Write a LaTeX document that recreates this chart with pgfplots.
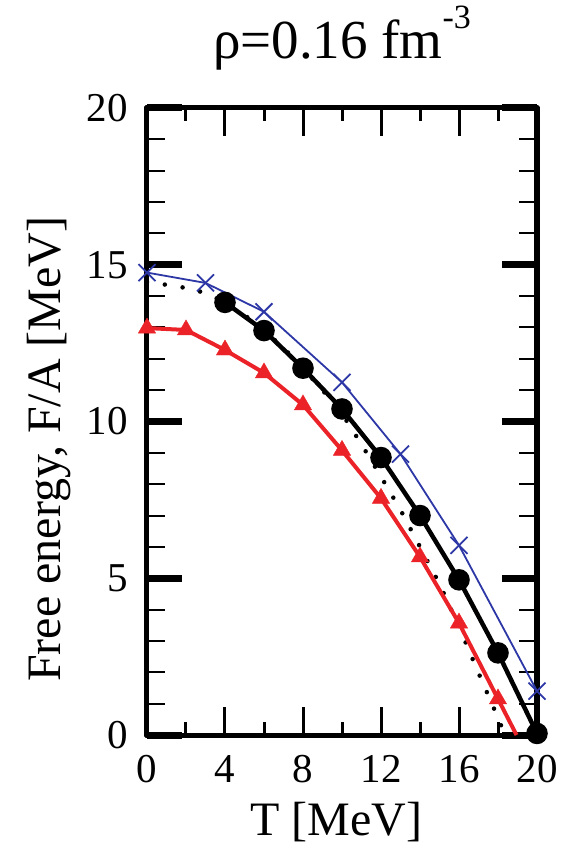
\documentclass[border=0pt]{standalone}
\usepackage{pgfplots}
\pgfplotsset{compat=1.18}
\usepackage{fontspec}
\setmainfont{Liberation Serif}
\newfontfamily\tnr{Liberation Serif}
\definecolor{cblue}{RGB}{45,55,165}
\definecolor{cred}{RGB}{235,35,40}
\begin{document}
\begin{tikzpicture}
\path[use as bounding box] (-147pt,-112pt) rectangle (427pt,735pt);
\pgfplotsset{common/.style={
  width=390pt,height=627pt,scale only axis,
  xmin=0,xmax=20,ymin=0,ymax=20,
  axis line style={line width=5pt, line join=round},
  tick align=inside,
  /pgf/number format/assume math mode=true,
  ticklabel style={font=\tnr\fontsize{41}{41}\selectfont, inner sep=0pt},
  at={(0,0)}, anchor=south west}}
% axis for x ticks
\begin{axis}[common,
  ytick=\empty,
  xtick={0,4,8,12,16,20},
  minor x tick num=1,
  major tick length=28pt, minor tick length=13pt,
  every tick/.style={line width=3pt, black},
  xticklabel shift=20pt,
  xlabel={T [MeV]},
  xlabel style={at={(axis description cs:0.485,-0.1595)}, anchor=base,
    font=\tnr\fontsize{48}{48}\selectfont, inner sep=0pt},
]
\end{axis}
% axis for y ticks and data
\begin{axis}[common,
  clip=false,
  xtick=\empty,
  ytick={0,5,10,15,20},
  minor y tick num=4,
  major tick length=35pt, minor tick length=18pt,
  major tick style={line width=7pt, black},
  minor tick style={line width=2pt, black},
  yticklabel shift=19pt,
  ylabel={Free energy, F/A [MeV]},
  ylabel style={at={(axis description cs:-0.223,0.456)}, anchor=base,
    font=\tnr\fontsize{48}{48}\selectfont, inner sep=0pt},
  title={{\tnr ρ=0.16 fm}\raisebox{30pt}{\tnr\fontsize{34}{34}\selectfont -3}},
  title style={at={(axis description cs:0.5,1.0686)}, anchor=base,
    font=\tnr\fontsize{55}{55}\selectfont, inner sep=0pt},
]
\addplot[cblue, line width=1.8pt, mark=x, mark size=12pt, mark options={line width=1.8pt}]
  coordinates {(0,14.75)(3,14.42)(6,13.5)(10,11.25)(13,8.96)(16,6.05)(20,1.4)};
\addplot[black, line width=4.5pt, line cap=round, dash pattern=on 0pt off 18pt]
  coordinates {(0,14.45)(1,14.36)(2,14.26)(3,14.1)(4,13.8)(5,13.4)(6,12.9)(7,12.35)(8,11.7)(9,11.0)(10,10.25)(11,9.27)(12,8.24)(13,7.18)(14,6.0)(15,4.82)(16,3.45)(17,1.98)(18,0.55)(18.35,0)};
\addplot[cred, line width=4pt]
  coordinates {(0,12.98)(2,12.92)(4,12.28)(6,11.55)(8,10.53)(10,9.08)(12,7.55)(14,5.68)(16,3.57)(18,1.15)(18.95,0)};
\addplot[cred, only marks, mark=triangle*, mark size=10pt]
  coordinates {(0,12.98)(2,12.92)(4,12.28)(6,11.55)(8,10.53)(10,9.08)(12,7.55)(14,5.68)(16,3.57)(18,1.15)};
\addplot[black, line width=4.5pt, mark=*, mark size=8.5pt]
  coordinates {(4,13.8)(6,12.9)(8,11.7)(10,10.4)(12,8.85)(14,7.0)(16,4.95)(18,2.62)(20,0.05)};
\end{axis}
\end{tikzpicture}
\end{document}
